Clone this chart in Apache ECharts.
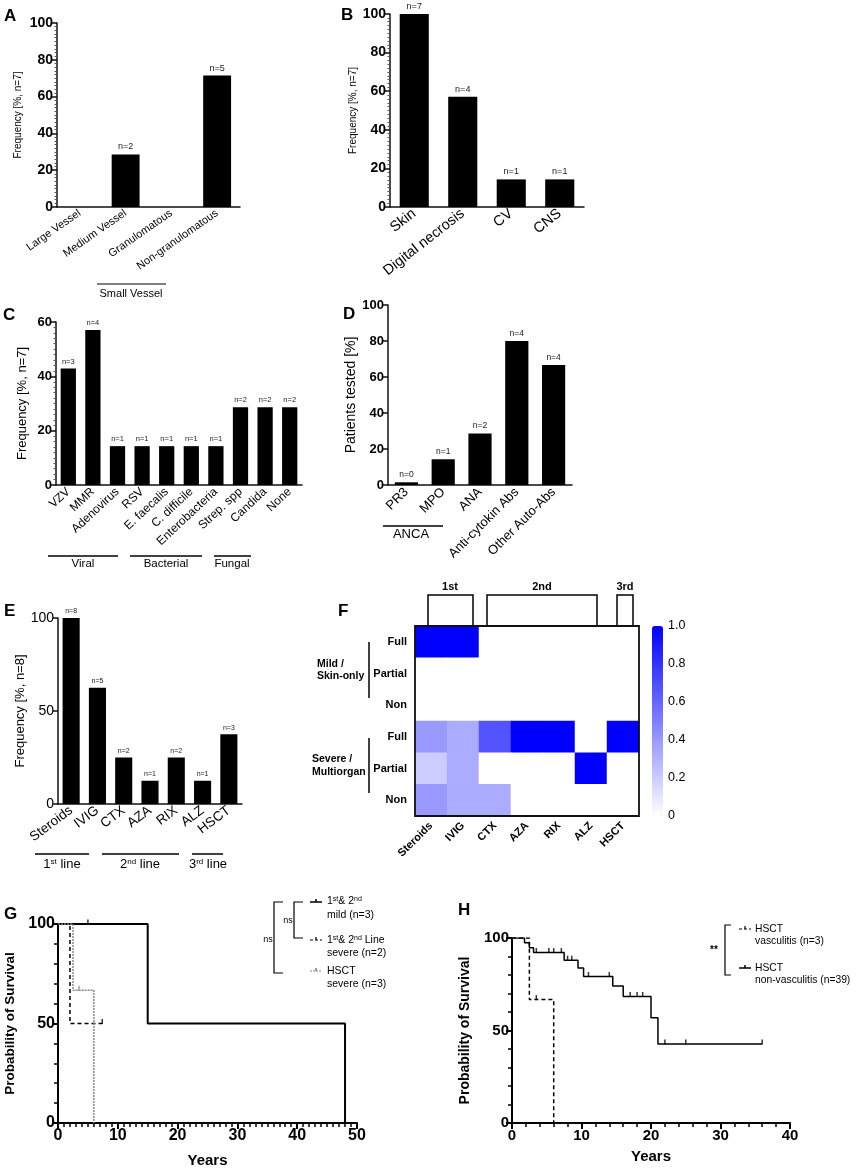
<!DOCTYPE html>
<html>
<head>
<meta charset="utf-8">
<title>Vasculitis overview</title>
<script src="https://cdn.jsdelivr.net/npm/echarts@6/dist/echarts.min.js"></script>
<style>
html, body { margin: 0; padding: 0; background: #fff; }
#main { width: 858px; height: 1169px; }
</style>
</head>
<body>
<div id="main"></div>
<script>
// A - vasculitis type
var vesselCats = ['Large Vessel', 'Medium Vessel', 'Granulomatous', 'Non-granulomatous'];
var vesselPct = [0, 28.6, 0, 71.4];
var vesselN = ['', 'n=2', '', 'n=5'];
// B - organ involvement
var organCats = ['Skin', 'Digital necrosis', 'CV', 'CNS'];
var organPct = [100, 57.1, 14.3, 14.3];
var organN = ['n=7', 'n=4', 'n=1', 'n=1'];
// C - infections
var infCats = ['VZV', 'MMR', 'Adenovirus', 'RSV', 'E. faecalis', 'C. difficile', 'Enterobacteria', 'Strep. spp', 'Candida', 'None'];
var infPct = [42.9, 57.1, 14.3, 14.3, 14.3, 14.3, 14.3, 28.6, 28.6, 28.6];
var infN = ['n=3', 'n=4', 'n=1', 'n=1', 'n=1', 'n=1', 'n=1', 'n=2', 'n=2', 'n=2'];
// D - autoantibodies
var abCats = ['PR3', 'MPO', 'ANA', 'Anti-cytokin Abs', 'Other Auto-Abs'];
var abPct = [1.5, 14.3, 28.6, 80, 66.7];
var abN = ['n=0', 'n=1', 'n=2', 'n=4', 'n=4'];
// E - treatment
var txCats = ['Steroids', 'IVIG', 'CTX', 'AZA', 'RIX', 'ALZ', 'HSCT'];
var txPct = [100, 62.5, 25, 12.5, 25, 12.5, 37.5];
var txN = ['n=8', 'n=5', 'n=2', 'n=1', 'n=2', 'n=1', 'n=3'];
// F - response (fraction of treated patients)
var respRows = ['Full', 'Partial', 'Non', 'Full', 'Partial', 'Non'];
var mildFull = [1, 1, 0, 0, 0, 0, 0];
var mildPartial = [0, 0, 0, 0, 0, 0, 0];
var mildNon = [0, 0, 0, 0, 0, 0, 0];
var sevFull = [0.4, 0.33, 0.67, 1, 1, 0, 1];
var sevPartial = [0.2, 0.33, 0, 0, 0, 1, 0];
var sevNon = [0.4, 0.33, 0.33, 0, 0, 0, 0];
// G - survival by treatment group
var gMild = [[0, 100], [15, 50], [48, 0]];
var gMildCens = [[5, 100]];
var gLine = [[0, 100], [2, 50], [7.4, 50]];
var gLineCens = [[7.4, 50]];
var gHsct = [[0, 100], [2.5, 66.7], [6, 0]];
var gHsctCens = [[3.5, 66.7]];
// H - survival after HSCT
var hVasc = [[0, 100], [2.5, 66.7], [6, 0]];
var hVascCens = [[3.5, 66.7]];
var hNon = [[0, 100], [1.8, 97.4], [2.5, 94.7], [3.1, 92.1], [7.5, 88.0], [9.5, 83.8], [10.3, 79.2],
  [14.5, 74.0], [16, 68.4], [20, 56.9], [21, 42.7], [36, 42.7]];
var hNonCens = [[3.5, 92.1], [5.3, 92.1], [6, 92.1], [7.1, 92.1], [8, 88.0], [8.6, 88.0], [11, 79.2],
  [14, 79.2], [17, 68.4], [18, 68.4], [18.8, 68.4], [22, 42.7], [25, 42.7], [36, 42.7]];

var FONT = "'Liberation Sans', Arial, Helvetica, sans-serif";

// plot areas
var box = {
  A: {left: 57, top: 23, width: 183, height: 184},
  B: {left: 390, top: 14, width: 194, height: 193},
  C: {left: 56, top: 322, width: 246, height: 163},
  D: {left: 388, top: 305, width: 184, height: 180},
  E: {left: 58, top: 618, width: 184, height: 186},
  F: {left: 415, top: 626, width: 224, height: 190},
  Fbar: {left: 652, top: 626, width: 11, height: 190},
  G: {left: 58, top: 924, width: 299, height: 199},
  H: {left: 512, top: 938, width: 278, height: 185}
};

var grids = [], xAxes = [], yAxes = [], series = [], gfx = [];

function addGrid(b, extra) {
  grids.push(Object.assign({left: b.left, top: b.top, width: b.width, height: b.height}, extra || {}));
  return grids.length - 1;
}

function barPanel(b, cats, vals, ns, o) {
  var gi = addGrid(b);
  xAxes.push({
    type: 'category', gridIndex: gi, data: cats,
    axisLine: {lineStyle: {color: '#111', width: 1.5}},
    axisTick: {alignWithLabel: true, length: 4, lineStyle: {color: '#111'}},
    axisLabel: {interval: 0, rotate: o.rot, fontSize: o.xfs, color: '#000', margin: 5}
  });
  yAxes.push({
    type: 'value', gridIndex: gi, min: 0, max: o.max, interval: o.step,
    name: o.name, nameLocation: 'middle', nameRotate: 90, nameGap: o.gap,
    nameTextStyle: {fontSize: o.nfs, color: '#000'},
    axisLine: {show: true, lineStyle: {color: '#111', width: 1.5}},
    axisTick: {show: true, length: 5, lineStyle: {color: '#111', width: 1.5}},
    minorTick: {show: o.minor > 0, splitNumber: o.minor || 5, length: 2.5, lineStyle: {color: '#555'}},
    splitLine: {show: false},
    axisLabel: {fontSize: o.yfs, fontWeight: o.ybold ? 'bold' : 'normal', color: '#000', margin: 4}
  });
  series.push({
    type: 'bar', xAxisIndex: gi, yAxisIndex: gi, data: vals, barWidth: o.bw, silent: true,
    itemStyle: {color: '#000'},
    label: {show: true, position: 'top', distance: 3, fontSize: o.lfs, color: '#222',
      formatter: function (p) { return ns[p.dataIndex]; }}
  });
}

function kmPanel(b, o, curves) {
  var gi = addGrid(b);
  xAxes.push({
    type: 'value', gridIndex: gi, min: 0, max: o.xmax, interval: 10,
    name: 'Years', nameLocation: 'middle', nameGap: o.xgap,
    nameTextStyle: {fontSize: 15, fontWeight: 'bold', color: '#000'},
    axisLine: {lineStyle: {color: '#000', width: 2}},
    axisTick: {length: 6, lineStyle: {color: '#000', width: 2}},
    minorTick: {show: true, splitNumber: o.xminor, length: 4, lineStyle: {color: '#000', width: 1.5}},
    splitLine: {show: false},
    axisLabel: {fontSize: o.fs, fontWeight: 'bold', color: '#000', margin: 5}
  });
  yAxes.push({
    type: 'value', gridIndex: gi, min: 0, max: 100, interval: 50,
    name: 'Probability of Survival', nameLocation: 'middle', nameRotate: 90, nameGap: o.ygap,
    nameTextStyle: {fontSize: o.nfs, fontWeight: 'bold', color: '#000'},
    axisLine: {show: true, lineStyle: {color: '#000', width: 2}},
    axisTick: {show: true, length: 6, lineStyle: {color: '#000', width: 2}},
    minorTick: {show: true, splitNumber: 5, length: 4, lineStyle: {color: '#000', width: 1.5}},
    splitLine: {show: false},
    axisLabel: {fontSize: o.fs, fontWeight: 'bold', color: '#000', margin: 3}
  });
  curves.forEach(function (c) {
    series.push({
      type: 'line', xAxisIndex: gi, yAxisIndex: gi, data: c.data, step: 'end', symbol: 'none',
      silent: true, lineStyle: {color: c.color, width: c.width, type: c.dash}
    });
    series.push({
      type: 'scatter', xAxisIndex: gi, yAxisIndex: gi, data: c.cens, silent: true,
      symbol: 'rect', symbolSize: [1.5, 5], symbolOffset: [0, -2], itemStyle: {color: c.color}
    });
  });
}

function txt(x, y, s, st) {
  gfx.push({type: 'text', x: x, y: y, silent: true, z: 50,
    style: Object.assign({text: s, fontFamily: FONT, fontSize: 12, fill: '#000',
      align: 'center', verticalAlign: 'middle'}, st || {})});
}
function seg(pts, st) {
  gfx.push({type: 'polyline', silent: true, z: 50, shape: {points: pts},
    style: Object.assign({stroke: '#000', lineWidth: 1.5, fill: null}, st || {})});
}
function letter(x, y, s) {
  txt(x, y, s, {fontSize: 17, fontWeight: 'bold', align: 'left', verticalAlign: 'top'});
}
var supRich = {
  n: {fontFamily: FONT, fontSize: 13, fill: '#000'},
  s: {fontFamily: FONT, fontSize: 8, fill: '#000', verticalAlign: 'top'},
  ln: {fontFamily: FONT, fontSize: 10.5, fill: '#000'},
  ls: {fontFamily: FONT, fontSize: 7, fill: '#000', verticalAlign: 'top'}
};

// ---- bar panels
barPanel(box.A, vesselCats, vesselPct, vesselN, {rot: 35, xfs: 11, max: 100, step: 20,
  name: 'Frequency [%, n=7]', gap: 34, nfs: 10, yfs: 14, ybold: true, minor: 10, bw: '61%', lfs: 9});
barPanel(box.B, organCats, organPct, organN, {rot: 38, xfs: 14.5, max: 100, step: 20,
  name: 'Frequency [%, n=7]', gap: 28, nfs: 10, yfs: 14, ybold: true, minor: 10, bw: '60%', lfs: 9});
barPanel(box.C, infCats, infPct, infN, {rot: 43, xfs: 12, max: 60, step: 20,
  name: 'Frequency [%, n=7]', gap: 27, nfs: 13, yfs: 13, ybold: true, minor: 10, bw: '62%', lfs: 7.5});
barPanel(box.D, abCats, abPct, abN, {rot: 45, xfs: 13, max: 100, step: 20,
  name: 'Patients tested [%]', gap: 28, nfs: 14, yfs: 13, ybold: true, minor: 0, bw: '63%', lfs: 8.5});
barPanel(box.E, txCats, txPct, txN, {rot: 37, xfs: 13.5, max: 100, step: 50,
  name: 'Frequency [%, n=8]', gap: 30, nfs: 13, yfs: 14, ybold: false, minor: 0, bw: '65%', lfs: 7});

// ---- F heatmap
var heatRows = [mildFull, mildPartial, mildNon, sevFull, sevPartial, sevNon];
var heatData = [];
heatRows.forEach(function (row, r) {
  row.forEach(function (v, c) { heatData.push([c, r, v]); });
});
var fg = addGrid(box.F, {show: true, backgroundColor: '#fff', borderWidth: 0});
xAxes.push({
  type: 'category', gridIndex: fg, data: txCats,
  axisLine: {show: false}, axisTick: {show: false}, splitLine: {show: false},
  axisLabel: {interval: 0, rotate: 45, fontSize: 11, fontWeight: 'bold', color: '#000', margin: 8}
});
yAxes.push({
  type: 'category', gridIndex: fg, inverse: true, data: ['m0', 'm1', 'm2', 's0', 's1', 's2'],
  axisLine: {show: false}, axisTick: {show: false}, splitLine: {show: false},
  axisLabel: {fontSize: 11, fontWeight: 'bold', color: '#000', margin: 8,
    formatter: function (v, i) { return respRows[i]; }}
});
var heatIdx = series.length;
series.push({type: 'heatmap', xAxisIndex: fg, yAxisIndex: fg, data: heatData, silent: true,
  itemStyle: {borderWidth: 0}});

// colour bar scale
var cb = addGrid(box.Fbar, {show: false});
xAxes.push({type: 'value', gridIndex: cb, show: false, min: 0, max: 1});
yAxes.push({
  type: 'value', gridIndex: cb, position: 'right', min: 0, max: 1, interval: 0.2,
  axisLine: {show: false}, splitLine: {show: false},
  axisTick: {show: true, inside: true, length: 3, lineStyle: {color: '#fff', width: 1.5}},
  axisLabel: {fontSize: 12.5, color: '#000', margin: 5,
    formatter: function (v) { return v === 0 ? '0' : v.toFixed(1); }}
});

// ---- G / H survival
kmPanel(box.G, {xmax: 50, xminor: 10, fs: 16, xgap: 30, ygap: 41, nfs: 13.5}, [
  {data: gMild, cens: gMildCens, color: '#000', width: 2, dash: 'solid'},
  {data: gLine, cens: gLineCens, color: '#000', width: 1.5, dash: [4, 3]},
  {data: gHsct, cens: gHsctCens, color: '#8a8a8a', width: 1.5, dash: [2, 1]}
]);
kmPanel(box.H, {xmax: 40, xminor: 5, fs: 15, xgap: 26, ygap: 40, nfs: 14}, [
  {data: hVasc, cens: hVascCens, color: '#000', width: 1.5, dash: [4, 3]},
  {data: hNon, cens: hNonCens, color: '#000', width: 1.5, dash: 'solid'}
]);

// ---- annotations
letter(4, 8, 'A'); letter(341, 7, 'B'); letter(3, 307, 'C'); letter(343, 306, 'D');
letter(4, 603, 'E'); letter(338, 603, 'F'); letter(4, 906, 'G'); letter(458, 902, 'H');

// A group
seg([[97, 284], [166, 284]], {stroke: '#555'});
txt(131, 294, 'Small Vessel', {fontSize: 11});
// C groups
seg([[48, 556], [118, 556]]); txt(83, 564, 'Viral', {fontSize: 11.5});
seg([[130, 556], [202, 556]]); txt(166, 564, 'Bacterial', {fontSize: 11.5});
seg([[214, 556], [251, 556]]); txt(232, 564, 'Fungal', {fontSize: 11.5});
// D group
seg([[383, 526], [443, 526]]); txt(411, 534, 'ANCA', {fontSize: 13});
// E groups
seg([[35, 854], [89, 854]]);
txt(62, 864, '{n|1}{s|st}{n| line}', {rich: supRich});
seg([[102, 854], [179, 854]]);
txt(140, 864, '{n|2}{s|nd}{n| line}', {rich: supRich});
seg([[192, 854], [223, 854]]);
txt(208, 864, '{n|3}{s|rd}{n| line}', {rich: supRich});

// F brackets, row groups, frame
seg([[428, 626], [428, 595], [473, 595], [473, 626]]); txt(450, 587, '1st', {fontSize: 11, fontWeight: 'bold'});
seg([[487, 626], [487, 595], [597, 595], [597, 626]]); txt(542, 587, '2nd', {fontSize: 11, fontWeight: 'bold'});
seg([[617, 626], [617, 595], [633, 595], [633, 626]]); txt(625, 587, '3rd', {fontSize: 11, fontWeight: 'bold'});
txt(317, 664, 'Mild /', {fontSize: 10.5, fontWeight: 'bold', align: 'left'});
txt(317, 676, 'Skin-only', {fontSize: 10.5, fontWeight: 'bold', align: 'left'});
seg([[369, 642], [369, 698]]);
txt(312, 759, 'Severe /', {fontSize: 10.5, fontWeight: 'bold', align: 'left'});
txt(312, 772, 'Multiorgan', {fontSize: 10.5, fontWeight: 'bold', align: 'left'});
seg([[369, 738], [369, 793]]);
gfx.push({type: 'rect', silent: true, z: 60,
  shape: {x: box.F.left, y: box.F.top, width: box.F.width, height: box.F.height},
  style: {fill: null, stroke: '#111', lineWidth: 1.8}});

// G legend
seg([[283, 902], [274, 902], [274, 973], [283, 973]], {lineWidth: 1.2});
txt(268, 940, 'ns', {fontSize: 9});
seg([[303, 902], [294, 902], [294, 938], [303, 938]], {lineWidth: 1.2});
txt(288, 921, 'ns', {fontSize: 9});
seg([[310, 902], [322, 902]], {lineWidth: 1.5});
seg([[316, 899], [316, 902]], {lineWidth: 1.5});
seg([[310, 940], [322, 940]], {lineWidth: 1.2, lineDash: [3, 2]});
seg([[316, 937], [316, 940]], {lineWidth: 1.2});
seg([[310, 971], [322, 971]], {lineWidth: 1.2, stroke: '#8a8a8a', lineDash: [2, 1]});
seg([[316, 968], [316, 971]], {lineWidth: 1.2, stroke: '#555'});
txt(327, 901, '{ln|1}{ls|st}{ln|& 2}{ls|nd}', {rich: supRich, align: 'left'});
txt(327, 915, 'mild (n=3)', {fontSize: 10.5, align: 'left'});
txt(327, 940, '{ln|1}{ls|st}{ln|& 2}{ls|nd}{ln| Line}', {rich: supRich, align: 'left'});
txt(327, 953, 'severe (n=2)', {fontSize: 10.5, align: 'left'});
txt(327, 971, 'HSCT', {fontSize: 10.5, align: 'left'});
txt(327, 984, 'severe (n=3)', {fontSize: 10.5, align: 'left'});

// H legend
seg([[731, 925], [725, 925], [725, 975], [731, 975]], {lineWidth: 1.2});
txt(714, 950, '**', {fontSize: 10, fontWeight: 'bold'});
seg([[739, 929], [751, 929]], {lineWidth: 1.2, lineDash: [3, 2]});
seg([[745, 926], [745, 929]], {lineWidth: 1.2});
seg([[739, 968], [751, 968]], {lineWidth: 1.5});
seg([[745, 965], [745, 968]], {lineWidth: 1.5});
txt(755, 929, 'HSCT', {fontSize: 10.3, align: 'left'});
txt(755, 941, 'vasculitis (n=3)', {fontSize: 10.3, align: 'left'});
txt(755, 968, 'HSCT', {fontSize: 10.3, align: 'left'});
txt(755, 980, 'non-vasculitis (n=39)', {fontSize: 10.3, align: 'left'});

var myChart = echarts.init(document.getElementById('main'));
var option = {
  animation: false,
  backgroundColor: '#fff',
  textStyle: {fontFamily: FONT},
  grid: grids,
  xAxis: xAxes,
  yAxis: yAxes,
  visualMap: {
    type: 'continuous', min: 0, max: 1, seriesIndex: heatIdx, calculable: false, hoverLink: false,
    left: box.Fbar.left, top: box.Fbar.top, itemWidth: box.Fbar.width, itemHeight: box.Fbar.height,
    padding: 0, text: null, inRange: {color: ['#ffffff', '#0000ff']}
  },
  series: series,
  graphic: gfx
};
myChart.setOption(option);
</script>
</body>
</html>
